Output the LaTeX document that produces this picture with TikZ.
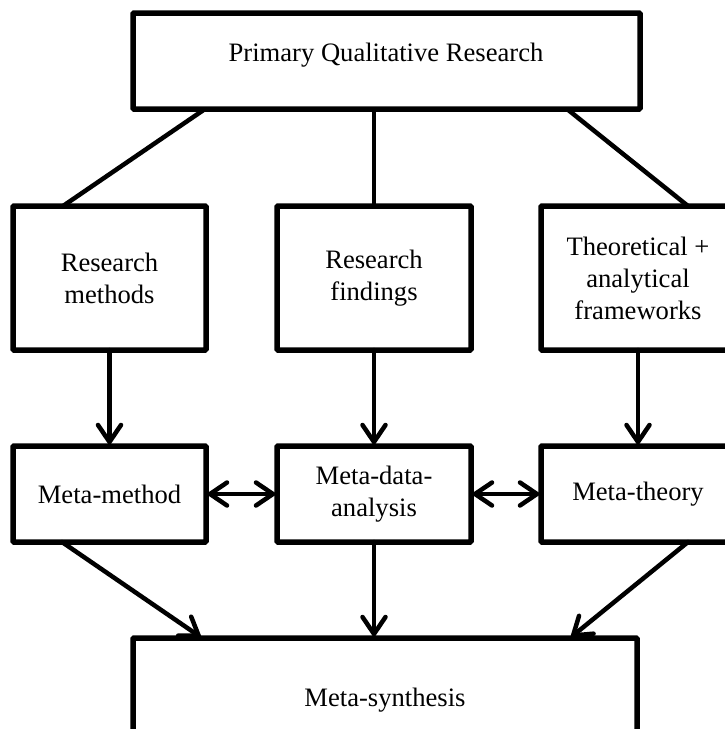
\documentclass[tikz,border=0pt]{standalone}
\usepackage{fontspec}
\setmainfont{Liberation Serif}
\usetikzlibrary{arrows.meta}
\begin{document}
\begin{tikzpicture}[x=1pt,y=-1pt,
  box/.style={draw, line width=5.5pt, rectangle, rounded corners=1pt, outer sep=0pt,
    inner sep=0pt, align=center, font=\fontsize{26.6}{32}\selectfont},
  label/.style={font=\fontsize{26.6}{32}\selectfont},
  link/.style={line width=4.5pt},
  barb/.tip={Straight Barb[length=17pt,width=23pt,line cap=round]},
  flow/.style={line width=4.5pt, line cap=round, -barb},
  twoway/.style={line width=4.5pt, line cap=round, barb-barb}]
  \clip (0,0) rectangle (725,729);
  % source
  \node[box, minimum width=507pt, minimum height=96pt] (pqr) at (386.5,61) {};
  \node[label] (pqrtext) at (386,55) {Primary Qualitative Research};
  % second row
  \node[box, minimum width=193pt, minimum height=144pt] (methods) at (109.5,278) {Research\\methods};
  \node[box, minimum width=194pt, minimum height=144pt] (findings) at (374,278) {Research\\findings};
  \node[box, minimum width=194pt, minimum height=144pt] (frameworks) at (638,278) {Theoretical +\\analytical\\frameworks};
  % third row
  \node[box, minimum width=193pt, minimum height=96pt] (mmethod) at (109.5,494) {Meta-method};
  \node[box, minimum width=194pt, minimum height=96pt] (mdata) at (374,494) {Meta-data-\\analysis};
  \node[box, minimum width=194pt, minimum height=96pt] (mtheory) at (638,494) {Meta-theory};
  % result
  \node[box, minimum width=504pt, minimum height=124pt] (msyn) at (385,700) {};
  \node[label] (msyntext) at (385,700) {Meta-synthesis};
  % connectors from the source
  \draw[link] ([xshift=72pt]pqr.south west) -- ([xshift=50pt]methods.north west);
  \draw[link] (pqr.south -| findings.north) -- (findings.north);
  \draw[link] ([xshift=-73pt]pqr.south east) -- ([xshift=-47pt]frameworks.north east);
  % downward arrows
  \draw[flow] (methods.south) -- (mmethod.north);
  \draw[flow] (findings.south) -- (mdata.north);
  \draw[flow] (frameworks.south) -- (mtheory.north);
  % two-way arrows
  \draw[twoway] (mmethod.east) -- (mdata.west);
  \draw[twoway] (mdata.east) -- (mtheory.west);
  % arrows into the synthesis
  \draw[flow] ([xshift=49pt]mmethod.south west) -- ([xshift=69pt]msyn.north west);
  \draw[flow] (mdata.south) -- (mdata.south |- msyn.north);
  \draw[flow] ([xshift=-47pt]mtheory.south east) -- ([xshift=-67pt]msyn.north east);
\end{tikzpicture}
\end{document}
